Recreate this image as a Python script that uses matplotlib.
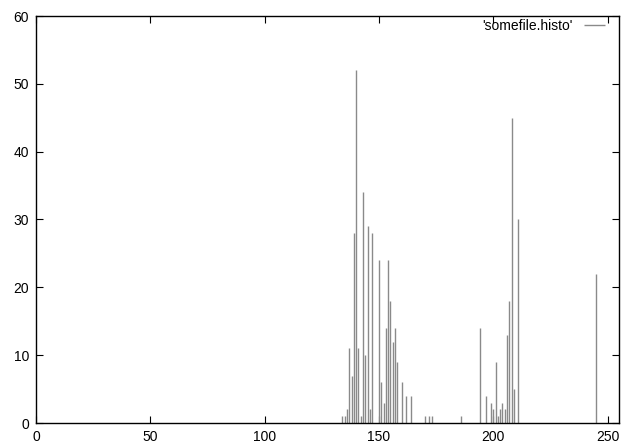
import matplotlib
matplotlib.use("Agg")
import matplotlib.pyplot as plt

plt.rcParams['font.family'] = ['Liberation Sans', 'DejaVu Sans']

bins = [134, 135, 136, 137, 138, 139, 140, 141, 142, 143, 144, 145, 146, 147,
        150, 151, 152, 153, 154, 155, 156, 157, 158, 160, 162, 164,
        170, 172, 173, 186,
        194, 197, 199, 200, 201, 202, 203, 204, 205, 206, 207, 208, 209, 211,
        245]
counts = [1, 1, 2, 11, 7, 28, 52, 11, 1, 34, 10, 29, 2, 28,
          24, 6, 3, 14, 24, 18, 12, 14, 9, 6, 4, 4,
          1, 1, 1, 1,
          14, 4, 3, 2, 9, 1, 2, 3, 2, 13, 18, 45, 5, 30,
          22]
series_label = "'somefile.histo'"
xticks = [0, 50, 100, 150, 200, 250]
yticks = [0, 10, 20, 30, 40, 50, 60]

fig = plt.figure(figsize=(6.4, 4.48), dpi=100)
ax = fig.add_axes([36/640, 25/448, (619-36)/640, (423-16)/448])

ax.vlines(bins, 0, counts, colors='#8a8a8a', linewidth=1.0, label=series_label)

ax.set_xlim(0, 255)
ax.set_ylim(0, 60)
ax.set_xticks(xticks)
ax.set_yticks(yticks)
ax.tick_params(direction='in', length=5, width=0.8, top=True, right=True,
               labelsize=10, pad=5, colors='black')
for s in ax.spines.values():
    s.set_linewidth(1.0)
    s.set_color('black')

leg = ax.legend(loc='upper right', bbox_to_anchor=(0.978, 0.997),
                frameon=False, markerfirst=False,
                fontsize=10, handlelength=1.5, handletextpad=0.8,
                borderaxespad=0.0, borderpad=0.1)

fig.savefig("out.png", dpi=100)
